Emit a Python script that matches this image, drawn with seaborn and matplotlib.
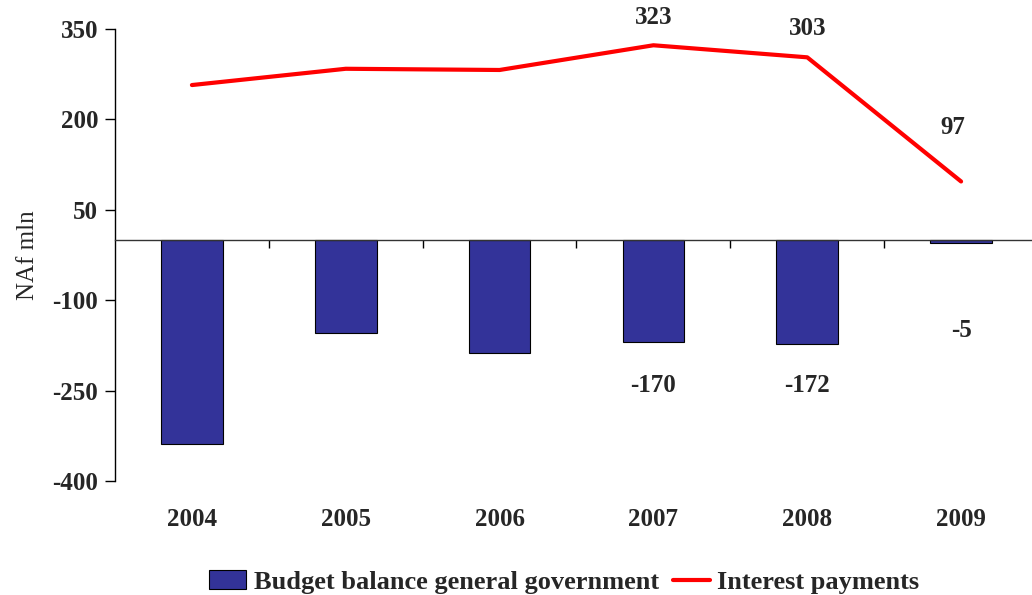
import numpy as np
import pandas as pd
import matplotlib
matplotlib.use("Agg")
import matplotlib.pyplot as plt
import seaborn as sns

years = ["2004", "2005", "2006", "2007", "2008", "2009"]
budget_balance = [-338, -155, -188, -170, -172, -5]
interest = [257, 284, 282, 323, 303, 97]

# which points get a value label, and offsets (points) for the labels
bar_labels = {3: (0, -31), 4: (0, -30), 5: (0, -63)}
line_labels = {3: (0, 20), 4: (0, 21), 5: (-6, 39)}

sns.set_style("white")
plt.rcParams["font.family"] = ["Liberation Serif", "DejaVu Serif"]
plt.rcParams["axes.unicode_minus"] = False

df = pd.DataFrame({"year": years, "budget": budget_balance, "interest": interest})
df["pos"] = np.arange(len(years))

fig = plt.figure(figsize=(10.32, 5.95), dpi=100)
ax = fig.add_axes([115 / 1032, 1 - 481 / 595, 923 / 1032, 452 / 595])

sns.barplot(data=df, x="pos", y="budget", color="#333399", width=0.4,
            edgecolor="black", linewidth=0.8, saturation=1, ax=ax,
            label="Budget balance general government", native_scale=True)
sns.lineplot(data=df, x="pos", y="interest", color="#ff0000", linewidth=3,
             ax=ax, label="Interest payments")

ax.set_xlim(-0.5, 5.5)
ax.set_ylim(-400, 350)
ax.set_yticks(np.arange(-400, 351, 150))
ax.tick_params(axis="y", left=True, direction="out", length=7, width=1,
               color="black", labelsize=18, pad=5)
for t in ax.get_yticklabels():
    t.set_fontweight("bold")

ax.spines["top"].set_visible(False)
ax.spines["right"].set_visible(False)
ax.spines["left"].set_color("black")
ax.spines["left"].set_linewidth(1)
ax.spines["bottom"].set_position(("data", 0))
ax.spines["bottom"].set_color("#333333")
ax.spines["bottom"].set_linewidth(1)

# ticks between categories on the zero line, year labels at the bottom
ax.set_xticks([])
ax.set_xticks(np.arange(0.5, 5, 1), minor=True)
ax.tick_params(axis="x", which="minor", bottom=True, direction="out",
               length=6, width=1, color="black")
ax.set_xlabel("")
for i, yr in enumerate(years):
    ax.text(i, -0.085, yr, transform=ax.get_xaxis_transform(), ha="center",
            va="center", fontsize=18, fontweight="bold")

ax.set_ylabel("NAf mln", fontsize=18, labelpad=10)

for i, off in bar_labels.items():
    ax.annotate(str(budget_balance[i]), (i, budget_balance[i]), xytext=off,
                textcoords="offset points", ha="center", va="center",
                fontsize=18, fontweight="bold")
for i, off in line_labels.items():
    ax.annotate(str(interest[i]), (i, interest[i]), xytext=off,
                textcoords="offset points", ha="center", va="center",
                fontsize=18, fontweight="bold")

handles, labels = ax.get_legend_handles_labels()
order = [labels.index("Budget balance general government"),
         labels.index("Interest payments")]
ax.legend([handles[k] for k in order], [labels[k] for k in order],
          loc="upper center", bbox_to_anchor=(0.5 - 12 / 923, -0.145), ncol=2,
          frameon=False, handlelength=1.4, handletextpad=0.3,
          columnspacing=0.5, prop={"weight": "bold", "size": 19})

fig.savefig("out.png", dpi=100)
